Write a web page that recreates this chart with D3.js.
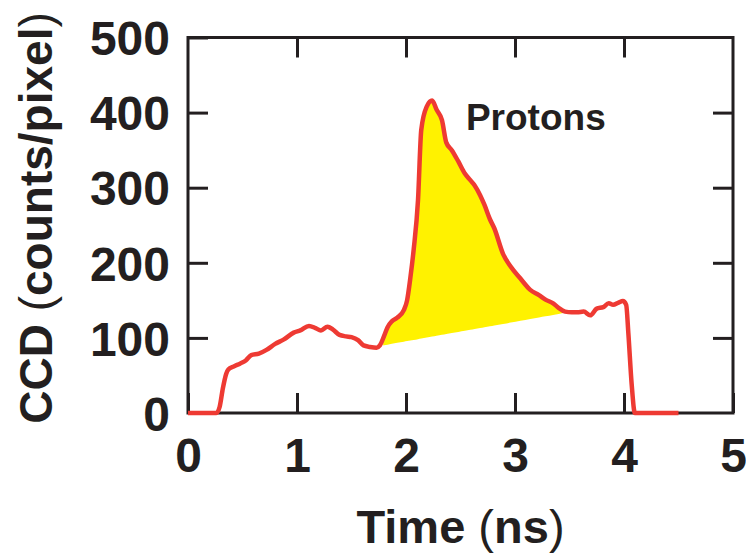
<!DOCTYPE html>
<html>
<head>
<meta charset="utf-8">
<script src="https://cdn.jsdelivr.net/npm/d3@7"></script>
<style>
  body { margin: 0; background: #fff; }
  text { font-family: "Liberation Sans", Arial, Helvetica, sans-serif; font-weight: bold; fill: #231f20; }
</style>
</head>
<body>
<script>
// time (ns) and CCD signal (counts/pixel)
const time = [0, 0.26, 0.29, 0.32, 0.35, 0.37, 0.42, 0.48, 0.53, 0.58, 0.65, 0.72, 0.80, 0.88, 0.97,
  1.03, 1.11, 1.17, 1.22, 1.28, 1.33, 1.39, 1.45, 1.50, 1.56, 1.61, 1.67, 1.73, 1.76, 1.80,
  1.83, 1.87, 1.92, 1.98, 2.01, 2.04, 2.07, 2.11, 2.14, 2.19, 2.24, 2.28, 2.33, 2.37, 2.42,
  2.48, 2.54, 2.59, 2.63, 2.68, 2.72, 2.77, 2.81, 2.89, 2.96, 3.05, 3.14, 3.22, 3.28, 3.35,
  3.40, 3.46, 3.52, 3.57, 3.63, 3.69, 3.75, 3.81, 3.86, 3.90, 3.95, 3.99, 4.02, 4.04, 4.07,
  4.10, 4.50];
const ccd = [0, 0, 8, 33, 52, 58, 62, 66, 70, 77, 79, 84, 92, 98, 107,
  110, 116, 113, 110, 115, 111, 104, 102, 101, 97, 90, 88, 87, 90, 103,
  114, 122, 127, 137, 150, 180, 217, 283, 377, 408, 416, 404, 390, 360, 350,
  335, 319, 310, 303, 290, 277, 258, 246, 212, 195, 179, 164, 157, 151, 146,
  140, 135, 134, 134, 135, 130, 139, 141, 146, 144, 147, 149, 144, 106, 39,
  0, 0];

// proton bump: straight baseline under the peak
const protonT = [1.79, 3.44];
const protonBase = [90, 133];

const xTicks = [0, 1, 2, 3, 4, 5];
const yTicks = [0, 100, 200, 300, 400, 500];

const width = 746, height = 554;
const margin = {left: 188, right: 13, top: 37.5, bottom: 141};
const plotW = width - margin.left - margin.right;
const plotH = height - margin.top - margin.bottom;
const ink = '#231f20';

const data = time.map((t, i) => ({t: t, v: ccd[i]}));

const x = d3.scaleLinear().domain([0, 5]).range([0, plotW]);
const y = d3.scaleLinear().domain([0, 500]).range([plotH, 0]);
const base = d3.scaleLinear().domain(protonT).range(protonBase);

const svg = d3.select('body').append('svg')
    .attr('width', width)
    .attr('height', height);

const g = svg.append('g')
    .attr('transform', 'translate(' + margin.left + ',' + margin.top + ')');

const styleAxis = (sel) => {
  sel.select('.domain').remove();
  sel.selectAll('line').attr('stroke', ink).attr('stroke-width', 3);
};

g.append('g')
    .attr('transform', 'translate(0,' + plotH + ')')
    .call(d3.axisBottom(x).tickValues(xTicks).tickSize(-20).tickPadding(25).tickFormat(d3.format('d')))
    .call(styleAxis)
    .selectAll('text').style('font-size', '48px').attr('fill', ink);

g.append('g')
    .call(d3.axisTop(x).tickValues(xTicks.slice(1, -1)).tickSize(-20).tickFormat(''))
    .call(styleAxis);

g.append('g')
    .call(d3.axisLeft(y).tickValues(yTicks).tickSize(-20).tickPadding(18))
    .call(styleAxis)
    .selectAll('text').style('font-size', '48px').attr('dy', '0.36em').attr('fill', ink);

g.append('g')
    .attr('transform', 'translate(' + plotW + ',0)')
    .call(d3.axisRight(y).tickValues(yTicks.slice(1, -1)).tickSize(-20).tickFormat(''))
    .call(styleAxis);

g.append('rect')
    .attr('width', plotW)
    .attr('height', plotH)
    .attr('fill', 'none')
    .attr('stroke', ink)
    .attr('stroke-width', 3);

// yellow proton area
g.append('clipPath').attr('id', 'pclip')
  .append('rect')
    .attr('x', x(protonT[0]))
    .attr('width', x(protonT[1]) - x(protonT[0]))
    .attr('y', 0)
    .attr('height', plotH);

g.append('path')
    .datum(data)
    .attr('clip-path', 'url(#pclip)')
    .attr('fill', '#fff200')
    .attr('d', d3.area()
        .curve(d3.curveMonotoneX)
        .x((d) => x(d.t))
        .y0((d) => y(base(d.t)))
        .y1((d) => y(d.v)));

g.append('path')
    .datum(data)
    .attr('fill', 'none')
    .attr('stroke', '#ee3a33')
    .attr('stroke-width', 4.5)
    .attr('stroke-linejoin', 'round')
    .attr('d', d3.line()
        .curve(d3.curveMonotoneX)
        .x((d) => x(d.t))
        .y((d) => y(d.v)));

g.append('text')
    .attr('x', x(2.55))
    .attr('y', y(377))
    .style('font-size', '37px')
    .text('Protons');

const xt = svg.append('text')
    .attr('x', margin.left + plotW / 2)
    .attr('y', 543)
    .attr('text-anchor', 'middle')
    .style('font-size', '47px');
xt.append('tspan').text('Time ');
xt.append('tspan').style('font-weight', 'normal').text('(');
xt.append('tspan').text('ns');
xt.append('tspan').style('font-weight', 'normal').text(')');

const yt = svg.append('text')
    .attr('transform', 'translate(52,218) rotate(-90)')
    .attr('text-anchor', 'middle')
    .style('font-size', '46px');
yt.append('tspan').text('CCD ');
yt.append('tspan').style('font-weight', 'normal').text('(');
yt.append('tspan').text('counts/pixel');
yt.append('tspan').style('font-weight', 'normal').text(')');
</script>
</body>
</html>
